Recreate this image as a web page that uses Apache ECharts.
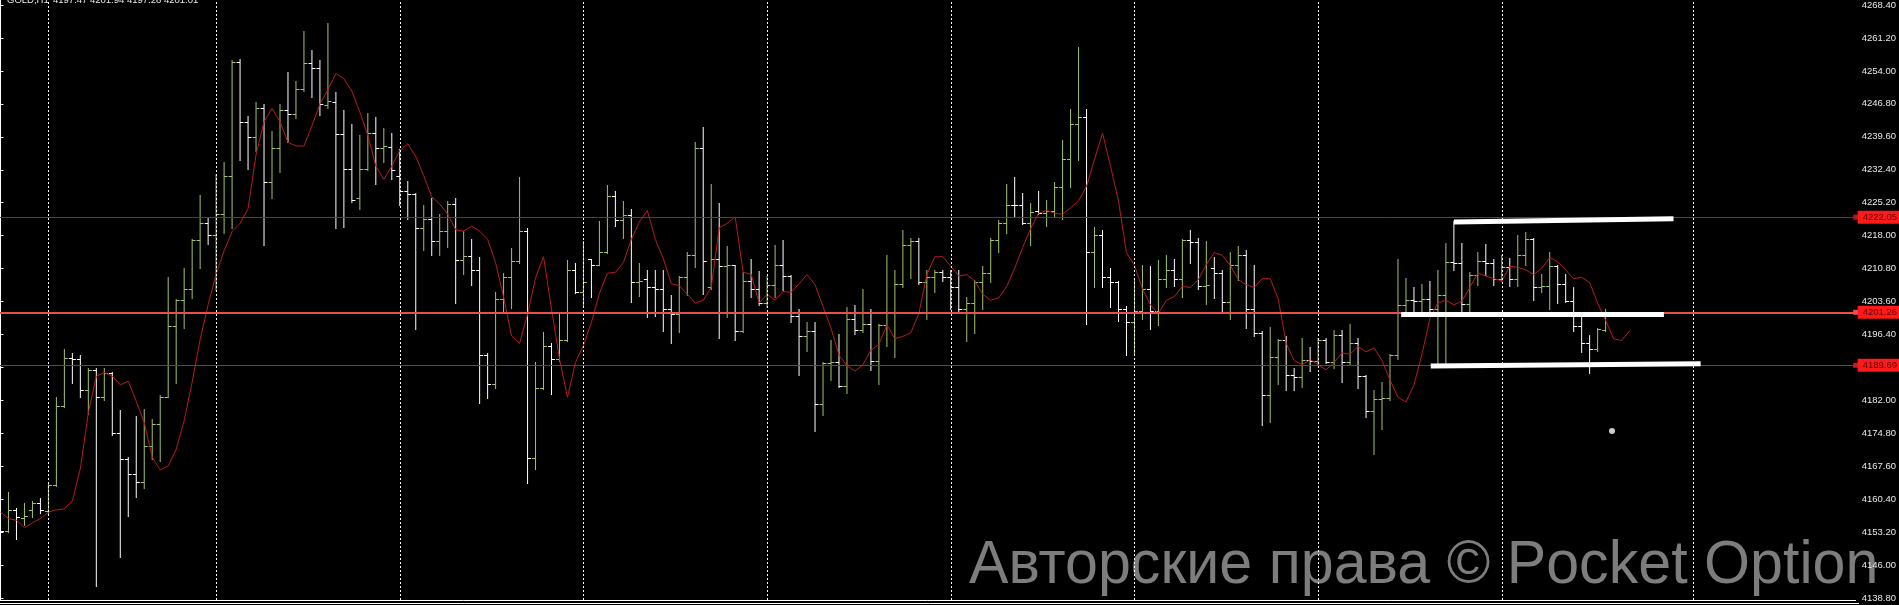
<!DOCTYPE html>
<html>
<head>
<meta charset="utf-8">
<script src="https://cdn.jsdelivr.net/npm/echarts@6/dist/echarts.min.js"></script>
<style>
    html, body { margin: 0; padding: 0; background: #000; }
    #chart { width: 1899px; height: 605px; }
</style>
</head>
<body>
<div id="chart"></div>
<script>
    const symbolName = 'GOLD,H1';

    // H1 bars, index 0 = leftmost bar
    const opens = [
        4160.0, 4153.4, 4158.1, 4156.4, 4158.1, 4159.5, 4157.8, 4163.5, 4180.8, 4191.3,
        4191.1, 4184.2, 4188.6, 4182.7, 4187.9, 4174.8, 4169.2, 4166.0, 4164.2, 4172.1,
        4176.8, 4182.8, 4198.2, 4203.9, 4206.4, 4217.0, 4220.7, 4218.2, 4222.7, 4231.0,
        4255.9, 4242.9, 4239.5, 4245.8, 4229.8, 4237.2, 4245.4, 4244.6, 4250.0, 4255.8,
        4254.7, 4246.5, 4247.3, 4240.3, 4232.6, 4226.3, 4232.6, 4240.5, 4237.2, 4237.4,
        4231.1, 4227.7, 4227.0, 4219.6, 4221.6, 4216.8, 4219.1, 4225.0, 4212.7, 4213.6,
        4210.5, 4191.9, 4185.6, 4204.2, 4209.0, 4212.4, 4219.1, 4169.4, 4184.8, 4194.0,
        4191.1, 4195.3, 4210.5, 4205.7, 4212.8, 4211.7, 4214.4, 4226.7, 4221.4, 4222.5,
        4207.8, 4208.6, 4206.7, 4206.4, 4202.0, 4200.8, 4209.0, 4213.7, 4237.2, 4206.7,
        4212.8, 4211.3, 4211.5, 4197.2, 4208.1, 4206.4, 4203.3, 4207.3, 4211.6, 4209.2,
        4200.5, 4196.0, 4197.2, 4181.2, 4190.1, 4190.3, 4185.2, 4199.9, 4197.4, 4198.8,
        4190.7, 4198.5, 4201.4, 4207.5, 4215.9, 4216.8, 4207.9, 4209.0, 4210.0, 4209.0,
        4206.7, 4201.9, 4203.3, 4207.8, 4209.8, 4217.0, 4220.7, 4224.8, 4224.6, 4220.8,
        4223.3, 4222.9, 4223.5, 4228.7, 4234.7, 4242.3, 4243.9, 4214.4, 4218.2, 4208.9,
        4207.8, 4202.0, 4199.1, 4201.6, 4206.4, 4201.6, 4208.6, 4210.5, 4208.6, 4217.0,
        4216.7, 4206.9, 4210.9, 4209.8, 4203.6, 4211.5, 4213.7, 4202.0, 4196.8, 4183.1,
        4191.5, 4195.1, 4187.6, 4187.1, 4190.9, 4190.7, 4195.1, 4190.4, 4196.3, 4190.3,
        4194.6, 4187.3, 4179.7, 4182.3, 4182.5, 4191.9, 4202.9, 4203.9, 4203.7, 4204.1,
        4202.0, 4205.0, 4212.3, 4212.1, 4203.1, 4209.5, 4212.5, 4212.1, 4208.6, 4211.1,
        4208.6, 4213.8, 4217.2, 4206.7, 4207.1, 4211.3, 4207.5, 4203.7, 4198.3, 4194.6,
        4193.2, 4197.47
    ];
    const highs = [
        4160.8, 4162.1, 4158.4, 4159.5, 4160.1, 4160.6, 4163.7, 4182.7, 4193.2, 4192.4,
        4191.9, 4189.0, 4189.0, 4189.0, 4188.3, 4180.0, 4169.6, 4178.6, 4180.2, 4178.0,
        4183.1, 4208.9, 4204.1, 4210.9, 4217.2, 4226.9, 4222.1, 4231.5, 4234.0, 4256.4,
        4256.6, 4244.1, 4247.1, 4246.7, 4240.8, 4246.7, 4253.8, 4251.9, 4262.7, 4258.6,
        4256.4, 4264.5, 4249.4, 4245.4, 4242.3, 4240.1, 4244.7, 4243.9, 4241.6, 4240.5,
        4237.0, 4230.0, 4227.3, 4224.6, 4226.3, 4222.7, 4225.6, 4226.3, 4219.0, 4217.2,
        4213.4, 4192.4, 4205.8, 4209.8, 4215.3, 4230.9, 4219.7, 4190.4, 4197.0, 4194.5,
        4201.0, 4212.6, 4212.0, 4216.8, 4213.0, 4221.2, 4229.0, 4227.7, 4225.6, 4223.9,
        4212.0, 4210.5, 4210.5, 4210.6, 4205.0, 4209.2, 4214.5, 4238.4, 4241.8, 4229.4,
        4225.2, 4215.7, 4211.7, 4210.0, 4213.0, 4210.3, 4209.2, 4215.9, 4217.0, 4209.5,
        4201.9, 4199.1, 4199.1, 4190.3, 4195.1, 4196.6, 4202.5, 4202.9, 4206.4, 4201.9,
        4198.8, 4213.7, 4210.5, 4219.3, 4217.6, 4217.6, 4210.5, 4210.5, 4210.6, 4210.5,
        4210.6, 4204.6, 4208.4, 4211.3, 4217.6, 4221.4, 4229.4, 4230.9, 4227.3, 4225.2,
        4227.7, 4225.9, 4229.8, 4238.9, 4245.7, 4259.3, 4245.7, 4219.9, 4219.3, 4210.9,
        4208.0, 4202.7, 4208.8, 4211.7, 4211.3, 4212.6, 4213.7, 4213.0, 4217.2, 4219.3,
        4217.4, 4216.8, 4213.4, 4210.5, 4214.5, 4215.7, 4214.8, 4211.7, 4197.2, 4198.0,
        4195.5, 4196.1, 4189.0, 4195.7, 4193.6, 4195.7, 4195.7, 4197.4, 4197.4, 4198.8,
        4195.7, 4187.6, 4184.2, 4186.1, 4192.1, 4212.8, 4208.8, 4206.7, 4207.5, 4208.1,
        4210.5, 4216.5, 4221.2, 4216.5, 4210.0, 4214.5, 4216.2, 4212.8, 4213.7, 4213.2,
        4218.2, 4218.9, 4217.4, 4209.6, 4214.5, 4211.7, 4209.6, 4206.7, 4200.2, 4196.3,
        4197.8, 4201.94
    ];
    const lows = [
        4152.8, 4153.2, 4151.7, 4154.7, 4156.6, 4157.4, 4157.2, 4163.3, 4180.5, 4185.9,
        4182.7, 4179.1, 4141.4, 4182.0, 4174.4, 4147.7, 4156.7, 4160.8, 4162.9, 4169.2,
        4168.8, 4182.7, 4185.9, 4197.8, 4204.4, 4210.9, 4216.2, 4206.2, 4218.5, 4219.7,
        4234.5, 4232.5, 4236.6, 4215.9, 4226.3, 4231.9, 4238.4, 4243.7, 4249.6, 4248.4,
        4244.3, 4245.8, 4219.7, 4219.9, 4225.4, 4223.8, 4232.4, 4229.4, 4234.0, 4230.4,
        4224.6, 4221.7, 4197.7, 4214.8, 4213.8, 4213.8, 4215.5, 4203.3, 4209.6, 4207.3,
        4181.4, 4182.5, 4184.8, 4201.4, 4202.2, 4212.1, 4164.0, 4167.1, 4184.5, 4183.3,
        4190.7, 4194.9, 4205.4, 4202.4, 4204.6, 4211.5, 4214.3, 4220.1, 4217.6, 4203.6,
        4204.8, 4200.2, 4200.4, 4197.2, 4194.6, 4197.0, 4205.0, 4211.1, 4205.2, 4206.4,
        4195.7, 4200.2, 4195.3, 4196.9, 4204.6, 4202.9, 4202.5, 4204.7, 4206.1, 4199.1,
        4187.6, 4192.8, 4175.3, 4178.9, 4186.5, 4185.0, 4183.7, 4196.6, 4197.0, 4188.7,
        4185.6, 4193.8, 4191.5, 4206.7, 4208.8, 4207.5, 4199.9, 4205.6, 4208.1, 4202.0,
        4201.4, 4194.9, 4196.8, 4201.9, 4207.9, 4214.5, 4218.6, 4222.2, 4220.6, 4215.9,
        4222.7, 4220.1, 4222.2, 4221.6, 4228.6, 4234.5, 4198.7, 4206.7, 4206.7, 4202.5,
        4199.4, 4191.9, 4191.9, 4199.7, 4197.7, 4198.5, 4206.7, 4207.1, 4204.7, 4212.1,
        4206.4, 4203.1, 4204.4, 4201.4, 4199.7, 4208.4, 4197.8, 4196.0, 4176.6, 4177.2,
        4185.6, 4184.2, 4184.2, 4185.0, 4188.4, 4189.8, 4190.1, 4189.0, 4186.0, 4189.8,
        4184.8, 4178.3, 4170.2, 4175.8, 4182.2, 4191.1, 4201.2, 4201.6, 4201.4, 4201.6,
        4190.1, 4190.1, 4210.5, 4201.6, 4201.4, 4207.3, 4209.5, 4207.3, 4208.1, 4207.1,
        4207.1, 4211.5, 4203.9, 4205.6, 4201.9, 4203.3, 4203.5, 4197.2, 4192.6, 4187.9,
        4192.8, 4197.28
    ];
    const closes = [
        4153.4, 4158.1, 4156.6, 4156.8, 4159.5, 4158.1, 4163.5, 4180.8, 4191.3, 4191.1,
        4184.2, 4188.6, 4182.7, 4187.9, 4174.8, 4169.2, 4166.0, 4164.2, 4172.1, 4176.8,
        4182.8, 4198.2, 4203.9, 4206.4, 4217.0, 4220.7, 4218.2, 4222.7, 4231.0, 4255.9,
        4242.9, 4239.5, 4245.8, 4229.8, 4237.2, 4245.4, 4244.6, 4250.0, 4255.8, 4254.7,
        4246.7, 4247.5, 4240.3, 4232.6, 4225.9, 4232.6, 4240.5, 4237.2, 4237.5, 4232.4,
        4227.7, 4227.0, 4219.6, 4221.6, 4216.8, 4219.1, 4225.0, 4212.7, 4213.6, 4210.5,
        4191.9, 4185.6, 4204.2, 4209.0, 4212.4, 4219.1, 4169.4, 4184.8, 4194.0, 4191.1,
        4195.3, 4210.5, 4205.7, 4207.9, 4211.7, 4214.4, 4226.7, 4221.4, 4222.5, 4207.8,
        4208.1, 4206.7, 4206.4, 4202.0, 4200.8, 4209.0, 4213.7, 4237.2, 4212.4, 4212.8,
        4211.3, 4211.5, 4197.2, 4208.1, 4206.4, 4203.3, 4207.3, 4211.6, 4209.2, 4200.5,
        4196.0, 4197.2, 4181.2, 4190.1, 4190.3, 4185.2, 4199.9, 4197.4, 4198.8, 4190.7,
        4198.5, 4201.2, 4207.5, 4215.9, 4216.8, 4207.9, 4209.0, 4210.0, 4209.0, 4206.7,
        4201.9, 4203.3, 4207.8, 4209.8, 4217.0, 4220.7, 4224.8, 4224.6, 4220.8, 4223.1,
        4222.9, 4223.5, 4228.7, 4234.7, 4242.3, 4243.9, 4214.4, 4218.2, 4208.9, 4207.8,
        4202.0, 4199.1, 4201.6, 4206.4, 4201.6, 4208.6, 4210.5, 4208.6, 4217.0, 4216.7,
        4206.9, 4207.3, 4209.8, 4203.6, 4211.5, 4213.7, 4202.0, 4196.8, 4183.1, 4191.5,
        4195.1, 4187.6, 4187.1, 4190.9, 4190.7, 4195.1, 4190.4, 4196.3, 4190.3, 4194.6,
        4187.3, 4179.7, 4182.3, 4182.5, 4191.9, 4202.9, 4203.9, 4203.7, 4204.1, 4202.0,
        4205.0, 4212.3, 4212.1, 4203.1, 4209.5, 4212.5, 4212.1, 4208.6, 4211.1, 4208.6,
        4213.8, 4217.2, 4206.7, 4207.1, 4211.3, 4207.5, 4203.7, 4198.3, 4194.6, 4193.2,
        4197.7, 4201.01
    ];
    // moving average (drawn 3 bars ahead of the last bar)
    const maValues = [
        4157.6, 4156.2, 4155.8, 4154.2, 4155.3, 4156.2, 4157.6, 4158.1, 4158.3, 4160.1,
        4167.1, 4179.3, 4187.3, 4188.1, 4187.3, 4185.4, 4186.2, 4181.8, 4177.2, 4169.6,
        4166.8, 4167.7, 4171.3, 4177.6, 4186.0, 4195.3, 4202.9, 4209.6, 4214.7, 4218.9,
        4220.7, 4223.9, 4235.7, 4242.9, 4245.8, 4242.9, 4238.4, 4237.6, 4237.6, 4242.0,
        4246.8, 4249.9, 4253.4, 4252.3, 4249.6, 4245.0, 4239.9, 4233.2, 4230.3, 4233.2,
        4236.6, 4238.1, 4235.3, 4231.1, 4226.5, 4224.9, 4222.7, 4219.3, 4219.0, 4220.1,
        4219.0, 4217.2, 4212.1, 4204.6, 4196.1, 4194.5, 4200.8, 4208.8, 4213.4, 4202.0,
        4191.1, 4182.7, 4190.3, 4194.0, 4199.1, 4205.4, 4209.8, 4210.0, 4212.1, 4217.2,
        4221.0, 4223.5, 4217.2, 4213.0, 4207.5, 4207.1, 4205.2, 4203.3, 4203.9, 4206.7,
        4219.7, 4220.7, 4222.1, 4210.0, 4209.6, 4203.3, 4205.2, 4203.9, 4205.8, 4205.6,
        4207.5, 4209.5, 4207.3, 4202.5, 4197.8, 4191.9, 4189.6, 4188.4, 4189.8, 4193.0,
        4194.3, 4198.5, 4195.5, 4196.0, 4196.8, 4201.0, 4209.5, 4213.4, 4213.4, 4211.3,
        4209.2, 4209.5, 4208.1, 4205.2, 4203.9, 4204.4, 4206.9, 4210.9, 4215.4, 4219.6,
        4222.9, 4223.5, 4222.9, 4222.7, 4224.1, 4225.6, 4228.8, 4234.7, 4240.4, 4233.2,
        4225.6, 4214.3, 4211.5, 4206.4, 4202.9, 4201.0, 4203.9, 4204.7, 4206.9, 4206.7,
        4208.4, 4211.7, 4214.3, 4213.7, 4211.5, 4208.4, 4207.3, 4206.7, 4208.6, 4208.6,
        4204.2, 4194.5, 4190.7, 4189.8, 4190.9, 4189.8, 4188.7, 4190.3, 4192.4, 4192.1,
        4193.8, 4192.6, 4193.5, 4190.7, 4186.5, 4182.7, 4181.7, 4185.4, 4192.1, 4199.9,
        4203.3, 4203.9, 4202.9, 4203.7, 4206.7, 4209.8, 4209.2, 4208.6, 4208.1, 4211.3,
        4211.1, 4210.5, 4209.5, 4210.9, 4213.2, 4212.3, 4210.5, 4208.6, 4208.9, 4207.8,
        4203.3, 4199.5, 4195.5, 4195.1, 4197.2
    ];
    const levels = [4222.05, 4201.26, 4189.69];
    const priceTicks = [
        4138.80, 4146.00, 4153.20, 4160.40, 4167.60, 4174.80, 4182.00, 4189.20, 4196.40, 4203.60,
        4210.80, 4218.00, 4225.20, 4232.40, 4239.60, 4246.80, 4254.00, 4261.20, 4268.40
    ];
    // bar indexes of the dotted period separators
    const separators = [6, 27, 50, 73, 96, 119, 142, 165, 188, 212];
    // hand drawn lines: [barIndex, price] pairs
    const drawnTop = [[182, 4221.0], [209.5, 4221.7]];
    const drawnMid = [[175.4, 4200.8], [208.3, 4200.8]];
    const drawnLow = [[179.1, 4189.5], [212.9, 4190.0]];
    const drawnDot = [[201.8, 4175.3]];

    const upColor = '#a3c46a';
    const smallFont = "'Liberation Sans', Arial, sans-serif";
    const levelColors = ['#b51616', '#e85050', '#c41c1c'];
    const levelWidths = [1, 2, 1];

    const barData = opens.map((o, i) => [i, o, highs[i], lows[i], closes[i]]);
    const last = opens.length - 1;
    const lastText = [opens[last], highs[last], lows[last], closes[last]].map(v => v.toFixed(2)).join(' ');

    function renderBar(params, api) {
        const k = api.value(0);
        const hi = api.coord([k, api.value(2)]);
        const lo = api.coord([k, api.value(3)]);
        const op = api.coord([k, api.value(1)]);
        const cl = api.coord([k, api.value(4)]);
        const color = api.value(4) > api.value(1) ? upColor : '#ffffff';
        const x = hi[0];
        const oy = Math.round(op[1]) + 0.5;
        const cy = Math.round(cl[1]) + 0.5;
        const st = { stroke: color, lineWidth: 1 };
        return {
            type: 'group',
            children: [
                { type: 'line', shape: { x1: x, y1: Math.round(hi[1]), x2: x, y2: Math.round(lo[1]) + 1 }, style: st },
                { type: 'line', shape: { x1: x - 3.5, y1: oy, x2: x, y2: oy }, style: st },
                { type: 'line', shape: { x1: x, y1: cy, x2: x + 3.5, y2: cy }, style: st }
            ]
        };
    }

    function drawnLine(points) {
        return {
            type: 'line',
            data: points,
            symbol: 'none',
            silent: true,
            z: 5,
            lineStyle: { color: '#ffffff', width: 5, cap: 'butt' }
        };
    }

    let chart = echarts.init(document.getElementById('chart'));
    let option = {
        animation: false,
        backgroundColor: '#000000',
        grid: { left: 0, top: 0, width: 1859, height: 600 },
        xAxis: {
            type: 'value',
            min: -0.0625,
            max: 232.3125,
            axisLine: { show: true, onZero: false, lineStyle: { color: '#ffffff', width: 1 } },
            axisTick: { show: false },
            axisLabel: { show: false },
            splitLine: { show: false }
        },
        yAxis: {
            type: 'value',
            position: 'right',
            min: 4138.4,
            max: 4269.4,
            axisLine: { show: true, lineStyle: { color: '#ffffff', width: 1 } },
            axisTick: { show: true, length: 3, customValues: priceTicks, lineStyle: { color: '#ffffff' } },
            axisLabel: {
                customValues: priceTicks,
                formatter: v => v.toFixed(2),
                color: '#e8e8e8',
                fontSize: 9.5,
                fontFamily: smallFont,
                margin: 6
            },
            splitLine: { show: false }
        },
        graphic: [
            {
                // watermark, squeezed a little to fit its width
                type: 'text', z: -10, silent: true,
                x: 969, y: 566, scaleX: 0.97,
                style: {
                    x: 0, y: 0, text: 'Авторские права © Pocket Option',
                    font: '61px "Liberation Sans", Arial, sans-serif',
                    fill: '#7d7d7d', verticalAlign: 'middle'
                }
            },
            {
                type: 'text', z: 10, silent: true,
                style: { x: 7, y: 0.5, text: symbolName, font: '9.5px ' + smallFont, fill: '#e8e8e8', verticalAlign: 'middle' }
            },
            {
                type: 'text', z: 10, silent: true,
                style: { x: 53, y: 0.5, text: lastText, font: '9.5px ' + smallFont, fill: '#e8e8e8', verticalAlign: 'middle' }
            },
            {
                type: 'line', z: 10, silent: true,
                shape: { x1: 0, y1: 603.5, x2: 1859, y2: 603.5 },
                style: { stroke: '#ffffff', lineWidth: 1 }
            }
        ],
        series: [
            {
                // period separators
                type: 'line',
                data: [],
                silent: true,
                z: 1,
                markLine: {
                    silent: true,
                    symbol: 'none',
                    label: { show: false },
                    lineStyle: { color: '#ffffff', width: 1, type: [2, 2] },
                    data: separators.map(v => ({ xAxis: v }))
                }
            },
            {
                type: 'custom',
                renderItem: renderBar,
                data: barData,
                encode: { x: 0, y: [1, 2, 3, 4] },
                silent: true,
                z: 3
            },
            {
                name: 'MA',
                type: 'line',
                data: maValues.map((v, i) => [i, v]),
                symbol: 'none',
                silent: true,
                z: 4,
                lineStyle: { color: '#b81c1c', width: 1 },
                markLine: {
                    silent: true,
                    symbol: ['none', 'rect'],
                    symbolSize: 5,
                    data: levels.map((v, i) => ({
                        yAxis: v,
                        lineStyle: { color: levelColors[i], width: levelWidths[i], type: 'solid' },
                        label: {
                            show: true,
                            position: 'end',
                            distance: 2,
                            formatter: p => p.value.toFixed(2),
                            color: '#5a0000',
                            backgroundColor: '#ff1a1a',
                            padding: [2, 4, 1, 5],
                            fontSize: 9.5,
                            fontFamily: smallFont
                        }
                    }))
                }
            },
            drawnLine(drawnTop),
            drawnLine(drawnMid),
            drawnLine(drawnLow),
            {
                type: 'scatter',
                data: drawnDot,
                symbolSize: 6,
                silent: true,
                z: 5,
                itemStyle: { color: '#ffffff' }
            }
        ]
    };
    chart.setOption(option);
</script>
</body>
</html>
